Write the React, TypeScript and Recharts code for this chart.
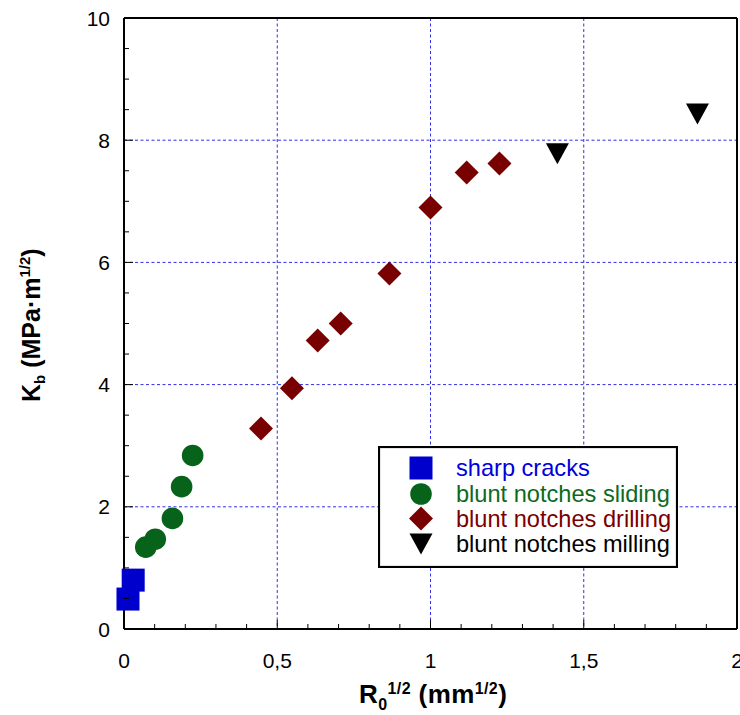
import React from 'react';
import { ScatterChart, Scatter, XAxis, YAxis, CartesianGrid, Legend, Customized } from 'recharts';

const sharpCracks = [
  { x: 0.013, y: 0.49 },
  { x: 0.03, y: 0.8 },
];
const bluntSliding = [
  { x: 0.071, y: 1.34 },
  { x: 0.102, y: 1.47 },
  { x: 0.158, y: 1.81 },
  { x: 0.188, y: 2.33 },
  { x: 0.224, y: 2.84 },
];
const bluntDrilling = [
  { x: 0.447, y: 3.28 },
  { x: 0.548, y: 3.94 },
  { x: 0.632, y: 4.72 },
  { x: 0.707, y: 5.0 },
  { x: 0.866, y: 5.82 },
  { x: 1.0, y: 6.9 },
  { x: 1.118, y: 7.47 },
  { x: 1.225, y: 7.62 },
];
const bluntMilling = [
  { x: 1.414, y: 7.78 },
  { x: 1.871, y: 8.43 },
];

const xMajorTicks = [0, 0.5, 1, 1.5, 2];
const xAllTicks = [0, 0.1, 0.2, 0.3, 0.4, 0.5, 0.6, 0.7, 0.8, 0.9, 1, 1.1, 1.2, 1.3, 1.4, 1.5, 1.6, 1.7, 1.8, 1.9, 2];
const yMajorTicks = [0, 2, 4, 6, 8, 10];
const yAllTicks = [0, 0.5, 1, 1.5, 2, 2.5, 3, 3.5, 4, 4.5, 5, 5.5, 6, 6.5, 7, 7.5, 8, 8.5, 9, 9.5, 10];

const seriesNames = ['sharp cracks', 'blunt notches sliding', 'blunt notches drilling', 'blunt notches milling'];
const seriesColors = ['#0000cc', '#07631a', '#780000', '#000000'];
const legendTextColors = ['#0000dd', '#0d6a1c', '#7a0000', '#000000'];

const FONT = "'Liberation Sans', Arial, Helvetica, sans-serif";
const MAJOR_LEN = 9;
const MINOR_LEN = 5;

const isMajor = (v: number, majors: number[]) => majors.some((m) => Math.abs(m - v) < 1e-9);
const fmt = (v: number) => String(v).replace('.', ',');

const SquareShape = (p: any) => (
  <rect x={p.cx - 11.5} y={p.cy - 11.5} width={23} height={23} fill={seriesColors[0]} />
);
const CircleShape = (p: any) => <circle cx={p.cx} cy={p.cy} r={10.8} fill={seriesColors[1]} />;
const DiamondShape = (p: any) => (
  <polygon
    points={`${p.cx},${p.cy - 12} ${p.cx + 12},${p.cy} ${p.cx},${p.cy + 12} ${p.cx - 12},${p.cy}`}
    fill={seriesColors[2]}
  />
);
const TriangleShape = (p: any) => (
  <polygon
    points={`${p.cx - 11.5},${p.cy - 10.5} ${p.cx + 11.5},${p.cy - 10.5} ${p.cx},${p.cy + 10.5}`}
    fill={seriesColors[3]}
  />
);

const BottomTick = (p: any) => {
  const v = p.payload.value;
  const major = isMajor(v, xMajorTicks);
  return (
    <g>
      <line x1={p.x} x2={p.x} y1={p.y} y2={p.y - (major ? MAJOR_LEN : MINOR_LEN)} stroke="#000" strokeWidth={1} />
      {major && (
        <text x={p.x} y={p.y + 39} textAnchor="middle" fill="#000" fontSize={21} fontFamily={FONT}>
          {fmt(v)}
        </text>
      )}
    </g>
  );
};
const TopTick = (p: any) => {
  const v = p.payload.value;
  const major = isMajor(v, xMajorTicks);
  return (
    <line x1={p.x} x2={p.x} y1={p.y} y2={p.y + (major ? MAJOR_LEN : MINOR_LEN)} stroke="#000" strokeWidth={1} />
  );
};
const LeftTick = (p: any) => {
  const v = p.payload.value;
  const major = isMajor(v, yMajorTicks);
  return (
    <g>
      <line x1={p.x} x2={p.x + (major ? MAJOR_LEN : MINOR_LEN)} y1={p.y} y2={p.y} stroke="#000" strokeWidth={1} />
      {major && (
        <text x={p.x - 14} y={p.y + 7.5} textAnchor="end" fill="#000" fontSize={21} fontFamily={FONT}>
          {fmt(v)}
        </text>
      )}
    </g>
  );
};
const RightTick = (p: any) => {
  const v = p.payload.value;
  const major = isMajor(v, yMajorTicks);
  return (
    <line x1={p.x} x2={p.x - (major ? MAJOR_LEN : MINOR_LEN)} y1={p.y} y2={p.y} stroke="#000" strokeWidth={1} />
  );
};

const legendIcon = (i: number, cx: number, cy: number) => {
  if (i === 0) return <rect x={cx - 11.5} y={cy - 11.5} width={23} height={23} fill={seriesColors[0]} />;
  if (i === 1) return <circle cx={cx} cy={cy} r={10.8} fill={seriesColors[1]} />;
  if (i === 2)
    return (
      <polygon
        points={`${cx},${cy - 12} ${cx + 12},${cy} ${cx},${cy + 12} ${cx - 12},${cy}`}
        fill={seriesColors[2]}
      />
    );
  return (
    <polygon
      points={`${cx - 11.5},${cy - 10.5} ${cx + 11.5},${cy - 10.5} ${cx},${cy + 10.5}`}
      fill={seriesColors[3]}
    />
  );
};

const LegendBox = () => {
  const rows = [22, 48, 72.5, 98];
  return (
    <svg width={300} height={122} style={{ display: 'block' }}>
      <rect x={1} y={1} width={298} height={120} fill="#fff" stroke="#000" strokeWidth={2.2} />
      {seriesNames.map((n, i) => (
        <g key={n}>
          {legendIcon(i, 43, rows[i])}
          <text x={78} y={rows[i]} dy="0.36em" fill={legendTextColors[i]} fontSize={23.6} fontFamily={FONT}>
            {n}
          </text>
        </g>
      ))}
    </svg>
  );
};

const Titles = () => (
  <g fontFamily={FONT} fontWeight="bold" fill="#000">
    <text x={359} y={703} fontSize={26} letterSpacing={0.4} style={{ whiteSpace: 'pre' }}>
      <tspan>R</tspan>
      <tspan fontSize={16} dy={7}>0</tspan>
      <tspan fontSize={16} dy={-16}>1/2</tspan>
      <tspan dy={9}> (mm</tspan>
      <tspan fontSize={16} dy={-9}>1/2</tspan>
      <tspan dy={9}>)</tspan>
    </text>
    <text transform="translate(40,402) rotate(-90)" fontSize={25} style={{ whiteSpace: 'pre' }}>
      <tspan>K</tspan>
      <tspan fontSize={15} dy={5}>b</tspan>
      <tspan dy={-5}> (MPa·m</tspan>
      <tspan fontSize={15} dy={-10}>1/2</tspan>
      <tspan dy={10}>)</tspan>
    </text>
  </g>
);

const axisLineStyle = { stroke: '#000', strokeWidth: 2 };

export default function App() {
  return (
    <div style={{ position: 'absolute', left: 0, top: 0, width: 740, height: 715, background: '#fff' }}>
      <ScatterChart width={740} height={715} margin={{ top: 17, right: 2, bottom: 0, left: 0 }}>
        <CartesianGrid
          xAxisId={0}
          yAxisId={0}
          stroke="#2f2fe6"
          strokeDasharray="3 2.5"
          strokeWidth={1}
          verticalValues={xMajorTicks}
          horizontalValues={yMajorTicks}
        />
        <XAxis
          xAxisId={0}
          type="number"
          dataKey="x"
          domain={[0, 2]}
          ticks={xAllTicks}
          height={86}
          tickSize={0}
          tickMargin={0}
          tick={BottomTick}
          axisLine={axisLineStyle}
          tickLine={false}
          interval={0}
        />
        <XAxis
          xAxisId="top"
          orientation="top"
          type="number"
          domain={[0, 2]}
          ticks={xAllTicks}
          height={1}
          tickSize={0}
          tickMargin={0}
          tick={TopTick}
          axisLine={axisLineStyle}
          tickLine={false}
          interval={0}
        />
        <YAxis
          yAxisId={0}
          type="number"
          dataKey="y"
          domain={[0, 10]}
          ticks={yAllTicks}
          width={124}
          tickSize={0}
          tickMargin={0}
          tick={LeftTick}
          axisLine={axisLineStyle}
          tickLine={false}
          interval={0}
        />
        <YAxis
          yAxisId="right"
          orientation="right"
          type="number"
          domain={[0, 10]}
          ticks={yAllTicks}
          width={1}
          tickSize={0}
          tickMargin={0}
          tick={RightTick}
          axisLine={axisLineStyle}
          tickLine={false}
          interval={0}
        />
        <Scatter name={seriesNames[0]} data={sharpCracks} xAxisId={0} yAxisId={0} shape={SquareShape} isAnimationActive={false} />
        <Scatter name={seriesNames[1]} data={bluntSliding} xAxisId={0} yAxisId={0} shape={CircleShape} isAnimationActive={false} />
        <Scatter name={seriesNames[2]} data={bluntDrilling} xAxisId={0} yAxisId={0} shape={DiamondShape} isAnimationActive={false} />
        <Scatter name={seriesNames[3]} data={bluntMilling} xAxisId={0} yAxisId={0} shape={TriangleShape} isAnimationActive={false} />
        <Legend
          layout="vertical"
          align="center"
          verticalAlign="middle"
          wrapperStyle={{ position: 'absolute', left: 378, top: 446, width: 300, height: 122, margin: 0, padding: 0 }}
          content={() => <LegendBox />}
        />
        <Customized component={Titles} />
      </ScatterChart>
    </div>
  );
}
